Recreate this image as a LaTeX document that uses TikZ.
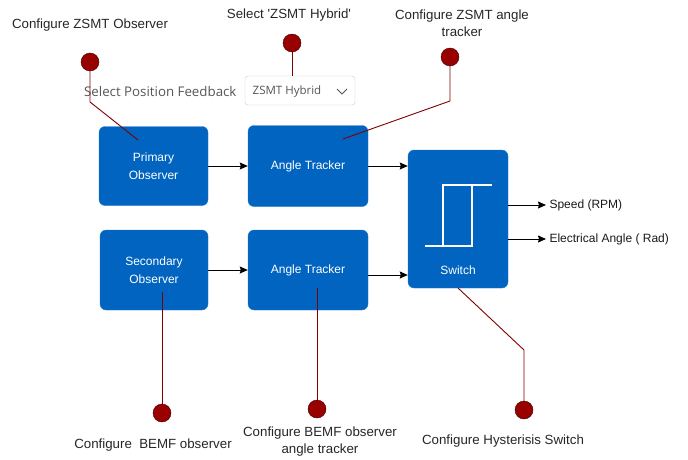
\documentclass[tikz,border=0pt]{standalone}
\usepackage{fontspec}
\setmainfont{Liberation Sans}
\newfontfamily\uifont{Open Sans}
\usetikzlibrary{shapes,arrows,arrows.meta,positioning,calc}
\definecolor{blockblue}{RGB}{0,100,192}
\definecolor{pinred}{RGB}{153,0,0}
\definecolor{pinline}{RGB}{128,0,0}
\definecolor{uigray}{RGB}{85,85,85}

\begin{document}
\begin{tikzpicture}[
    x=1pt, y=-1pt,
    block/.style={rectangle, draw=blockblue!85!white, fill=blockblue, rounded corners=6pt, text=white, align=center, font=\fontsize{12}{18}\selectfont, inner sep=0pt},
    pin/.style={circle, draw=black!60!pinred, fill=pinred, minimum size=18pt, inner sep=0pt},
    pinwire/.style={draw=pinline, line width=0.9pt},
    note/.style={align=center, font=\fontsize{13.3}{17}\selectfont, text=black!85},
    outlbl/.style={anchor=west, font=\fontsize{12}{14}\selectfont, text=black!90},
    uitext/.style={font=\uifont\fontsize{11.5}{14}\selectfont, text=uigray},
    arrow/.style={-{Stealth[length=8pt,width=7pt,inset=1pt]},line width=1pt},
]
\useasboundingbox (0,0) rectangle (688,460);

% Blocks
\node[block, minimum width=109pt, minimum height=79pt] (po) at (153.5,166) {Primary\\Observer};
\node[block, minimum width=120pt, minimum height=81pt] (at1) at (308,166) {Angle Tracker};
\node[block, minimum width=108pt, minimum height=80pt] (so) at (154,270) {Secondary\\Observer};
\node[block, minimum width=120pt, minimum height=80pt] (at2) at (308,270) {Angle Tracker};
\node[block, minimum width=100pt, minimum height=138pt] (sw) at (458,219) {};
\node[text=white, font=\fontsize{12}{14}\selectfont] (swlbl) at (458,270) {Switch};

% Hysteresis symbol
\draw[white, line width=1.5pt] (425,246) -- (472,246) -- (472,185);
\draw[white, line width=1.5pt] (443,246) -- (443,185) -- (492,185);

\draw[arrow] (po.east) -- (at1.west);
\draw[arrow] (at1.east) -- (at1.east -| sw.west);
\draw[arrow] (so.east) -- (at2.west);
\draw[arrow] ([yshift=-5pt]at2.east) -- ([yshift=-5pt]at2.east -| sw.west);

% Outputs
\node[outlbl] (spd) at (546,205) {Speed (RPM)};
\node[outlbl] (ang) at (546,239) {Electrical Angle ( Rad)};
\draw[arrow] (sw.east |- spd) -- (spd.west);
\draw[arrow] (sw.east |- ang) -- (ang.west);

% Position feedback selector
\node[draw=black!20, rounded corners=3pt, fill=white, minimum width=110pt, minimum height=29pt] (dd) at (300,90.5) {};
\node[uitext] (ddtxt) at (287,92) {ZSMT Hybrid};
\draw[uigray, line width=0.8pt] (337,89) -- (342,94) -- (347,89);
\node[uitext, font=\uifont\fontsize{13.3}{16}\selectfont, anchor=east] (spf) at (240,92) {Select Position Feedback};

% Callouts
\node[pin] (c1) at (90,62) {};
\node[pin] (c2) at (292,43) {};
\node[pin] (c3) at (450,57) {};
\node[pin] (c4) at (162,413) {};
\node[pin] (c5) at (317,409) {};
\node[pin] (c6) at (524,410) {};

\coordinate (k1) at (90,102);
\coordinate (p1) at (138,140);
\coordinate (k3) at (450,101);
\coordinate (p3) at (343,139);
\coordinate (p4) at (162,292);
\coordinate (p5) at (317,288);
\coordinate (k6) at (524,350);
\coordinate (p6) at (458,288);

\draw[pinwire] (c1.south) -- (k1) -- (p1);
\draw[pinwire] (c2.south) -- (c2.south |- dd.north);
\draw[pinwire] (c3.south) -- (k3) -- (p3);
\draw[pinwire] (c4.north) -- (p4);
\draw[pinwire] (c5.north) -- (p5);
\draw[pinwire] (c6.north) -- (k6) -- (p6);

\node[note] (t1) at (90,25) {Configure ZSMT Observer};
\node[note] (t2) at (289,15) {Select \textquotesingle ZSMT Hybrid\textquotesingle};
\node[note] (t3) at (462,23) {Configure ZSMT angle\\tracker};
\node[note] (t4) at (153,445) {Configure\ \ BEMF observer};
\node[note] (t5) at (320,442) {Configure BEMF observer\\angle tracker};
\node[note] (t6) at (503,441) {Configure Hysterisis Switch};

\end{tikzpicture}
\end{document}
